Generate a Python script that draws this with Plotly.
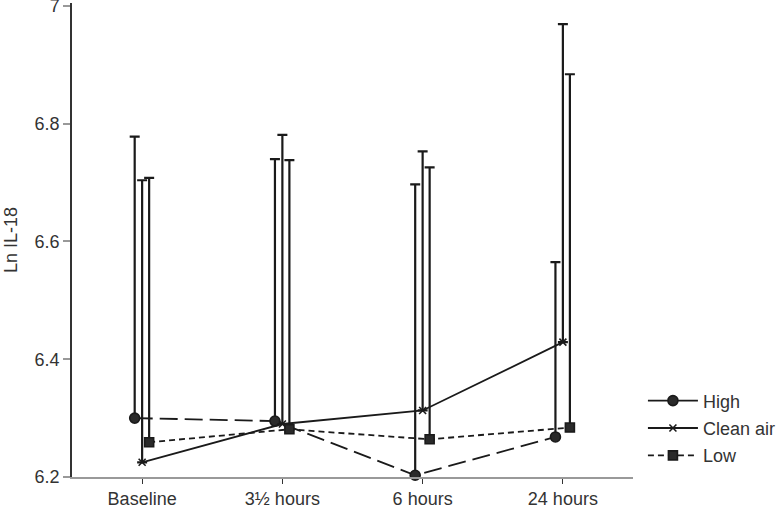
import plotly.graph_objects as go

categories = ["Baseline", "3½ hours", "6 hours", "24 hours"]
series_names = ["High", "Clean air", "Low"]

high_mean = [6.300, 6.295, 6.203, 6.268]
high_upper = [6.778, 6.740, 6.697, 6.565]
clean_mean = [6.225, 6.290, 6.313, 6.429]
clean_upper = [6.704, 6.781, 6.753, 6.969]
low_mean = [6.259, 6.281, 6.264, 6.284]
low_upper = [6.708, 6.738, 6.726, 6.884]

y_ticks = [6.2, 6.4, 6.6, 6.8, 7]
y_tick_text = ["6.2", "6.4", "6.6", "6.8", "7"]

offsets = [-0.053, 0.0, 0.05]
means = [high_mean, clean_mean, low_mean]
uppers = [high_upper, clean_upper, low_upper]
dashes = ["18px,7px", "solid", "6px,4px"]
legend_dashes = ["solid", "solid", "6px,4px"]
symbols = ["circle", "x-thin", "square"]
sizes = [10, 7, 9]

INK = "#1a1a1a"
fig = go.Figure()
for i, name in enumerate(series_names):
    xs = [k + offsets[i] for k in range(len(categories))]
    up = [u - m for u, m in zip(uppers[i], means[i])]
    fig.add_trace(go.Scatter(
        x=xs, y=means[i], mode="lines+markers", name=name, showlegend=False,
        line=dict(color=INK, width=1.8, dash=dashes[i]),
        marker=dict(symbol=symbols[i], size=sizes[i], color="#2a2a2a",
                    line=dict(color=INK, width=1.6)),
        error_y=dict(type="data", symmetric=False, array=up,
                     arrayminus=[0] * len(up), color=INK, thickness=2.2, width=5),
        cliponaxis=False,
    ))
for i, name in enumerate(series_names):
    fig.add_trace(go.Scatter(
        x=[None], y=[None], mode="lines+markers", name=name,
        legendgroup=name,
        line=dict(color=INK, width=1.8, dash=legend_dashes[i]),
        marker=dict(symbol=symbols[i], size=sizes[i], color="#2a2a2a",
                    line=dict(color=INK, width=1.6)),
    ))

fig.update_layout(
    width=784, height=506,
    margin=dict(l=72, r=146, t=3, b=29),
    paper_bgcolor="white", plot_bgcolor="white",
    font=dict(family="Liberation Sans, Arial, sans-serif", color="#333333", size=18),
    legend=dict(x=1.0177, xanchor="left", y=0.1996, yanchor="top",
                font=dict(size=18, color="#333333"), itemwidth=50,
                tracegroupgap=1, bgcolor="rgba(0,0,0,0)"),
    xaxis=dict(range=[-0.5, 3.5], tickvals=list(range(len(categories))),
               ticktext=categories, showgrid=False, zeroline=False,
               showline=True, linecolor="#999999", linewidth=1.5,
               ticks="outside", ticklen=5, tickcolor="#333333", tickwidth=1,
               tickfont=dict(size=18, color="#333333"), automargin=False,
               ticklabeloverflow="allow"),
    yaxis=dict(range=[6.2, 7.005], tickvals=y_ticks, ticktext=y_tick_text,
               showgrid=False, zeroline=False,
               showline=True, linecolor="#333333", linewidth=1.5,
               ticks="outside", ticklen=7, tickcolor="#999999", tickwidth=1.5,
               tickfont=dict(size=18, color="#333333"), automargin=False,
               ticklabeloverflow="allow",
               title=dict(text="Ln IL-18", font=dict(size=18, color="#333333"),
                          standoff=12)),
)

fig.write_html(
    "out.html",
    config={"displayModeBar": False},
    post_script="document.body.style.margin='0';document.body.style.padding='0';",
)
